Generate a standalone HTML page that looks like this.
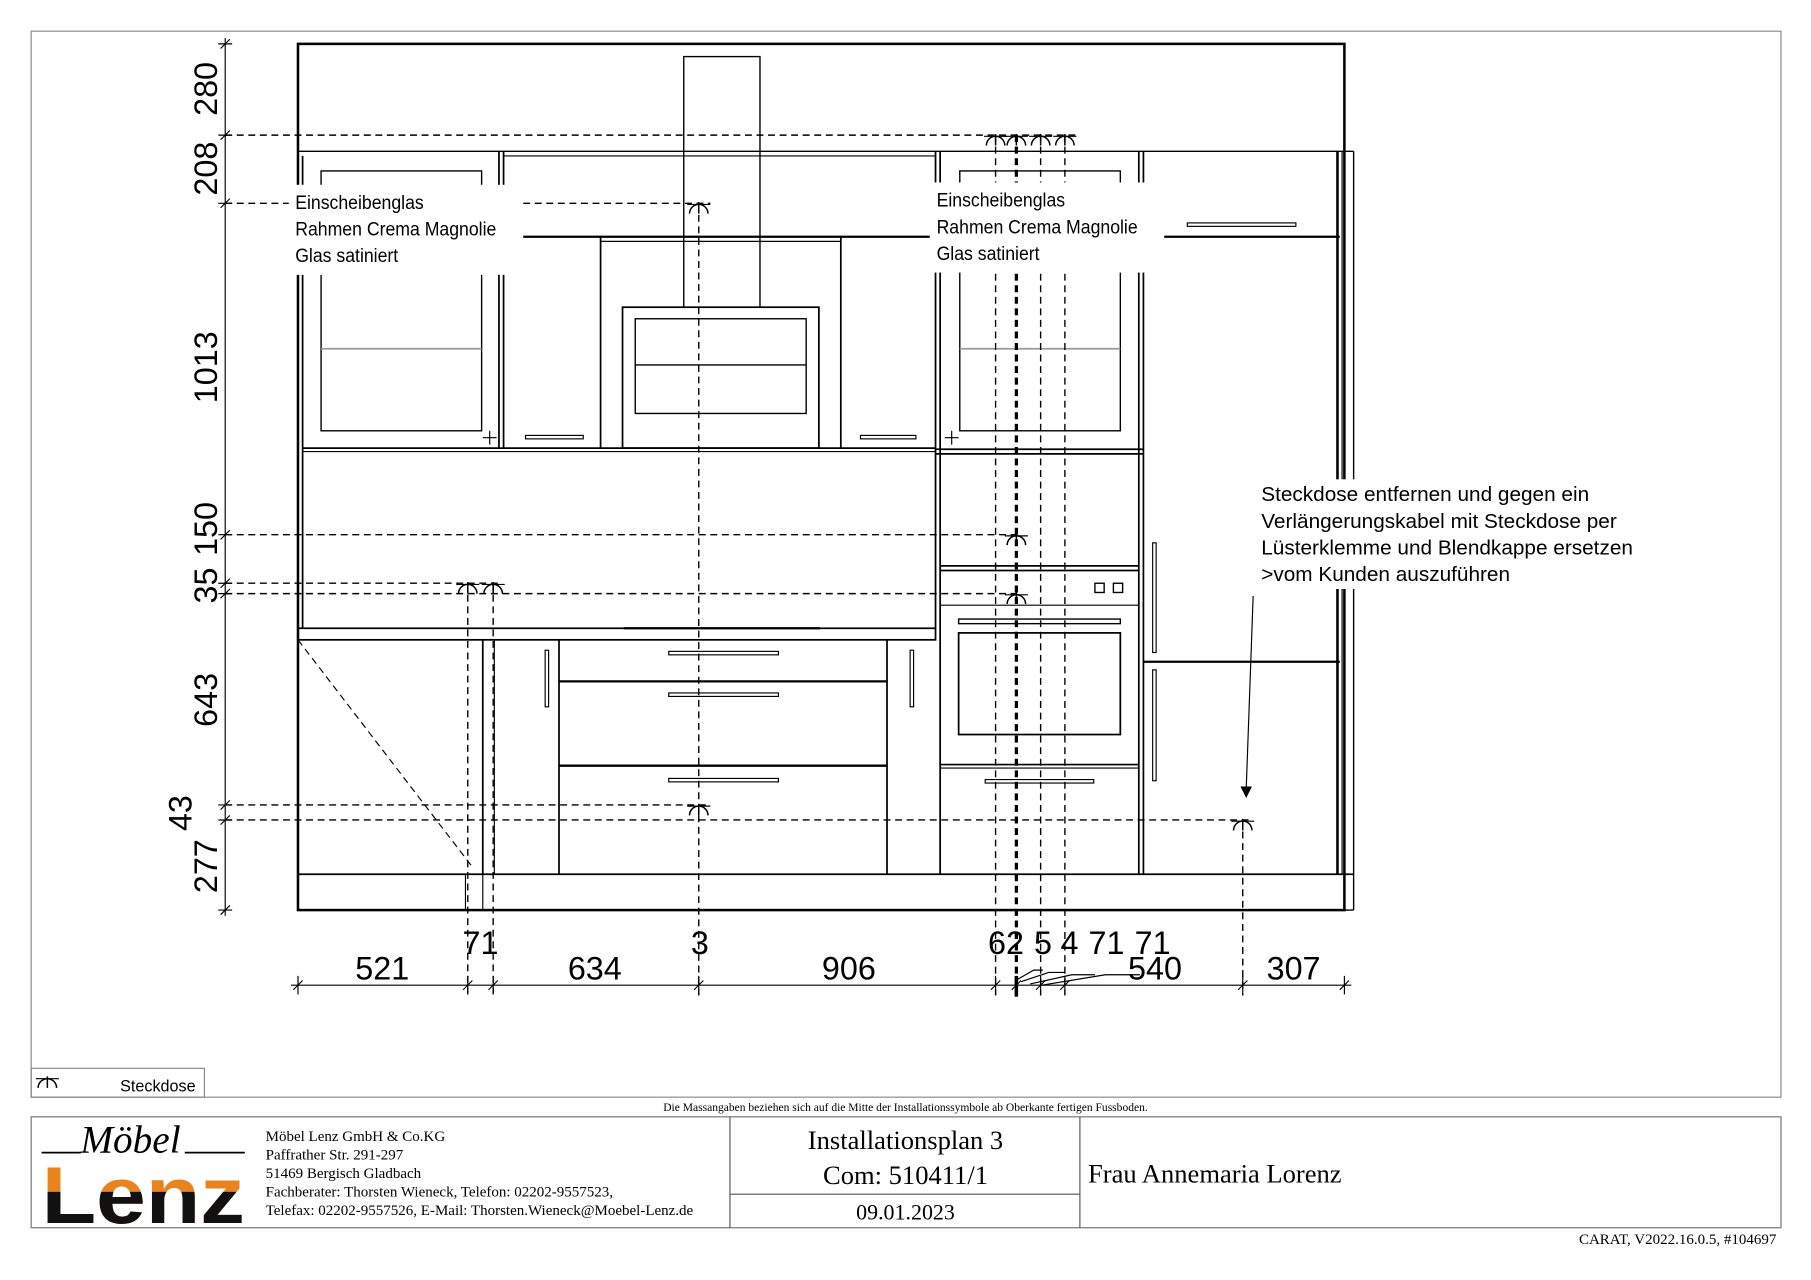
<!DOCTYPE html>
<html><head><meta charset="utf-8"><style>
html,body{margin:0;padding:0;background:#fff;width:1811px;height:1280px;overflow:hidden}
svg{display:block}
text{font-family:"Liberation Sans",sans-serif;fill:#000}
.s{font-family:"Liberation Serif",serif}
</style></head><body>
<svg width="1811" height="1280" viewBox="0 0 1568 1108.3" preserveAspectRatio="none" xmlns="http://www.w3.org/2000/svg">
<defs>
<clipPath id="lowc"><rect x="30" y="1032" width="190" height="40"/></clipPath>
<g id="sk"><path d="M-8,6 A8,8 0 0 1 8,6" fill="none" stroke="#000" stroke-width="1.3"/><line x1="0" y1="-4" x2="0" y2="6" stroke="#000" stroke-width="1.3"/><line x1="-10" y1="-2" x2="10" y2="-2" stroke="#000" stroke-width="1"/></g>
</defs>
<g fill="none" stroke="#000">
<rect x="27" y="27" width="1515" height="923" stroke="#888" stroke-width="1"/>
<rect x="27" y="925" width="150" height="25" stroke="#888" stroke-width="1"/>
<rect x="27" y="967" width="1515" height="96" stroke="#888" stroke-width="1.2"/>
<line x1="632" y1="967" x2="632" y2="1063" stroke="#555"/>
<line x1="935" y1="967" x2="935" y2="1063" stroke="#555"/>
<line x1="632" y1="1034" x2="935" y2="1034" stroke="#555"/>
<rect x="258" y="38" width="906" height="750" stroke-width="2.2"/>
<line x1="258" y1="131" x2="1172" y2="131" stroke-width="1.2"/>
<line x1="1172" y1="131" x2="1172" y2="788" stroke-width="1.2"/>
<line x1="1158" y1="131" x2="1158" y2="757" stroke-width="2.2"/>
<line x1="1162" y1="131" x2="1162" y2="757" stroke-width="1"/>
<line x1="258" y1="757" x2="1172" y2="757" stroke-width="1.5"/>
<line x1="1164" y1="788" x2="1172" y2="788" stroke-width="1.2"/>
<rect x="403" y="757" width="15" height="31" stroke-width="1"/>
<rect x="592" y="49" width="66" height="217" stroke-width="1.2"/>
<rect x="539" y="266" width="170" height="122" stroke-width="1.5"/>
<rect x="550" y="276" width="148" height="82" stroke-width="1.2"/>
<line x1="550" y1="316" x2="698" y2="316" stroke-width="1.2"/>
<line x1="453" y1="205" x2="805" y2="205" stroke-width="2"/>
<line x1="520" y1="209" x2="728" y2="209" stroke-width="1"/>
<line x1="520" y1="205" x2="520" y2="388" stroke-width="1.5"/>
<line x1="728" y1="205" x2="728" y2="388" stroke-width="1.5"/>
<line x1="262" y1="135" x2="262" y2="544" stroke-width="1.5"/>
<line x1="432" y1="131" x2="432" y2="388" stroke-width="1.5"/>
<line x1="436" y1="131" x2="436" y2="388" stroke-width="1.5"/>
<line x1="436" y1="135" x2="810" y2="135" stroke-width="1"/>
<line x1="810" y1="131" x2="810" y2="544" stroke-width="1.5"/>
<line x1="814" y1="131" x2="814" y2="757" stroke-width="1.5"/>
<line x1="986" y1="131" x2="986" y2="757" stroke-width="1.5"/>
<line x1="990" y1="131" x2="990" y2="757" stroke-width="1.5"/>
<line x1="262" y1="388" x2="810" y2="388" stroke-width="1.5"/>
<line x1="262" y1="391" x2="810" y2="391" stroke-width="1"/>
<rect x="278" y="148" width="139" height="225" stroke-width="1.2"/>
<line x1="278" y1="302" x2="417" y2="302" stroke="#999" stroke-width="1.5"/>
<rect x="831" y="148" width="139" height="225" stroke-width="1.2"/>
<line x1="831" y1="302" x2="970" y2="302" stroke="#999" stroke-width="1.5"/>
<line x1="810" y1="389" x2="990" y2="389" stroke-width="1.5"/>
<line x1="810" y1="393" x2="990" y2="393" stroke-width="1.5"/>
<rect x="455" y="377" width="50" height="3" stroke-width="1"/>
<rect x="745" y="377" width="48" height="3" stroke-width="1"/>
<path d="M424,373v12M418,379h12M824,373v12M818,379h12" stroke-width="1"/>
<line x1="1008" y1="205" x2="1160" y2="205" stroke-width="2"/>
<rect x="1028" y="193" width="94" height="3" stroke-width="1"/>
<line x1="990" y1="573" x2="1160" y2="573" stroke-width="2"/>
<rect x="998" y="470" width="3" height="95" stroke-width="1"/>
<rect x="998" y="580" width="3" height="96" stroke-width="1"/>
<line x1="814" y1="490" x2="986" y2="490" stroke-width="1.5"/>
<line x1="814" y1="494" x2="986" y2="494" stroke-width="1.5"/>
<rect x="948" y="505" width="8" height="8" stroke-width="1.2"/>
<rect x="964" y="505" width="8" height="8" stroke-width="1.2"/>
<line x1="814" y1="524" x2="986" y2="524" stroke-width="1"/>
<rect x="830" y="536" width="140" height="4" stroke-width="1.2"/>
<rect x="830" y="548" width="140" height="88" stroke-width="1.5"/>
<line x1="814" y1="662" x2="986" y2="662" stroke-width="1.5"/>
<line x1="814" y1="665" x2="986" y2="665" stroke-width="1"/>
<rect x="853" y="675" width="94" height="3" stroke-width="1"/>
<rect x="258" y="544" width="552" height="10" stroke-width="1.5"/>
<line x1="540" y1="544" x2="710" y2="544" stroke-width="2"/>
<line x1="418" y1="554" x2="418" y2="757" stroke-width="1.5"/>
<line x1="428" y1="554" x2="428" y2="757" stroke-width="1"/>
<line x1="484" y1="554" x2="484" y2="757" stroke-width="1.5"/>
<line x1="768" y1="554" x2="768" y2="757" stroke-width="1.5"/>
<line x1="484" y1="590" x2="768" y2="590" stroke-width="2"/>
<line x1="484" y1="663" x2="768" y2="663" stroke-width="2"/>
<rect x="579" y="564" width="95" height="3" stroke-width="1"/>
<rect x="579" y="600" width="95" height="3" stroke-width="1"/>
<rect x="579" y="674" width="95" height="3" stroke-width="1"/>
<rect x="472" y="563" width="3" height="49" stroke-width="1"/>
<rect x="788" y="563" width="3" height="49" stroke-width="1"/>
<line x1="258" y1="554" x2="410" y2="752" stroke-dasharray="6,4" stroke-width="1"/>
<g stroke-dasharray="6,4" stroke-width="1.2">
<line x1="195" y1="117" x2="935" y2="117"/>
<line x1="195" y1="176" x2="250" y2="176"/>
<line x1="453" y1="176" x2="615" y2="176"/>
<line x1="195" y1="463" x2="880" y2="463"/>
<line x1="195" y1="505" x2="435" y2="505"/>
<line x1="195" y1="514" x2="880" y2="514"/>
<line x1="195" y1="697" x2="615" y2="697"/>
<line x1="195" y1="710" x2="1085" y2="710"/>
<line x1="405" y1="505" x2="405" y2="862"/>
<line x1="427" y1="505" x2="427" y2="862"/>
<line x1="605" y1="176" x2="605" y2="862"/>
<line x1="862" y1="117" x2="862" y2="862"/>
<line x1="880" y1="117" x2="880" y2="862" stroke-width="2.8"/>
<line x1="901" y1="117" x2="901" y2="862"/>
<line x1="922" y1="117" x2="922" y2="862"/>
<line x1="1076" y1="710" x2="1076" y2="862"/>
</g>
<line x1="195" y1="33" x2="195" y2="793" stroke-width="1"/>
<path d="M189,38h12M189,117h12M189,176h12M189,463h12M189,505h12M189,514h12M189,697h12M189,710h12M189,788h12" stroke-width="1"/>
<path d="M191,42l8,-8M191,121l8,-8M191,180l8,-8M191,467l8,-8M191,509l8,-8M191,518l8,-8M191,701l8,-8M191,714l8,-8M191,792l8,-8" stroke-width="1"/>
<line x1="252" y1="853" x2="1170" y2="853" stroke-width="1"/>
<path d="M258,845v16M405,845v16M427,845v16M605,845v16M862,845v16M901,845v16M922,845v16M1076,845v16M1164,845v16" stroke-width="1"/>
<path d="M254,857l8,-8M401,857l8,-8M423,857l8,-8M601,857l8,-8M858,857l8,-8M876,857l8,-8M897,857l8,-8M918,857l8,-8M1072,857l8,-8M1160,857l8,-8" stroke-width="1"/>
<path d="M880,845v18" stroke-width="3"/>
<path d="M881,848l14,-8h8M884,850l24,-8h14M892,852l36,-8h20M902,853l55,-9h30" stroke-width="1"/>
<line x1="1085" y1="516" x2="1079" y2="683" stroke-width="1"/>
</g>
<path d="M1074,681h10l-5,10z" fill="#000"/>
<use href="#sk" x="605" y="179"/>
<use href="#sk" x="862" y="120"/><use href="#sk" x="880" y="120"/><use href="#sk" x="901" y="120"/><use href="#sk" x="922" y="120"/>
<use href="#sk" x="405" y="508"/><use href="#sk" x="427" y="508"/>
<use href="#sk" x="880" y="466"/><use href="#sk" x="880" y="517"/>
<use href="#sk" x="605" y="700"/><use href="#sk" x="1076" y="713"/>
<use href="#sk" x="41" y="936"/>
<rect x="252" y="160" width="200" height="78" fill="#fff"/>
<rect x="807" y="158" width="200" height="78" fill="#fff"/>
<rect x="1088" y="415" width="362" height="95" fill="#fff"/>
<g font-size="17" transform="scale(0.9,1)">
<text x="284" y="181">Einscheibenglas</text>
<text x="284" y="204">Rahmen Crema Magnolie</text>
<text x="284" y="227">Glas satiniert</text>
<text x="901" y="179">Einscheibenglas</text>
<text x="901" y="202">Rahmen Crema Magnolie</text>
<text x="901" y="225">Glas satiniert</text>
</g>
<g font-size="18">
<text x="1092" y="434">Steckdose entfernen und gegen ein</text>
<text x="1092" y="457">Verlängerungskabel mit Steckdose  per</text>
<text x="1092" y="480">Lüsterklemme und Blendkappe ersetzen</text>
<text x="1092" y="503">&gt;vom Kunden auszuführen</text>
</g>
<g font-size="28" text-anchor="middle">
<text transform="translate(188,77) rotate(-90)">280</text>
<text transform="translate(188,146) rotate(-90)">208</text>
<text transform="translate(188,318) rotate(-90)">1013</text>
<text transform="translate(188,458) rotate(-90)">150</text>
<text transform="translate(188,507) rotate(-90)">35</text>
<text transform="translate(188,606) rotate(-90)">643</text>
<text transform="translate(166,704) rotate(-90)">43</text>
<text transform="translate(188,750) rotate(-90)">277</text>
<text x="331" y="848">521</text>
<text x="515" y="848">634</text>
<text x="735" y="848">906</text>
<text x="1000" y="848">540</text>
<text x="1120" y="848">307</text>
<text x="416" y="826">71</text>
<text x="606" y="826">3</text>
<text x="871" y="826">62</text>
<text x="903" y="826">5</text>
<text x="926" y="826">4</text>
<text x="958" y="826">71</text>
<text x="998" y="826">71</text>
</g>
<text x="104" y="945" font-size="14">Steckdose</text>
<text x="784" y="962" font-size="10" text-anchor="middle" class="s">Die Massangaben beziehen sich auf die Mitte der Installationssymbole ab Oberkante fertigen Fussboden.</text>
<text x="113" y="998" font-size="34" font-style="italic" class="s" text-anchor="middle">Möbel</text>
<path d="M36,998h34M160,998h52" stroke="#000" stroke-width="1.5"/>
<text x="124" y="1059" font-size="70" font-weight="bold" text-anchor="middle" style="fill:#e8831e" textLength="176" lengthAdjust="spacingAndGlyphs">Lenz</text>
<text x="124" y="1059" font-size="70" font-weight="bold" text-anchor="middle" style="fill:#111" clip-path="url(#lowc)" textLength="176" lengthAdjust="spacingAndGlyphs">Lenz</text>
<g font-size="13">
<text x="230" y="988" class="s">Möbel Lenz GmbH &amp; Co.KG</text>
<text x="230" y="1004" class="s">Paffrather Str. 291-297</text>
<text x="230" y="1020" class="s">51469 Bergisch Gladbach</text>
<text x="230" y="1036" class="s">Fachberater: Thorsten Wieneck, Telefon: 02202-9557523,</text>
<text x="230" y="1052" class="s">Telefax: 02202-9557526, E-Mail: Thorsten.Wieneck@Moebel-Lenz.de</text>
</g>
<text x="784" y="995" font-size="23" text-anchor="middle" class="s">Installationsplan 3</text>
<text x="784" y="1025" font-size="23" text-anchor="middle" class="s">Com: 510411/1</text>
<text x="784" y="1056" font-size="19" text-anchor="middle" class="s">09.01.2023</text>
<text x="942" y="1024" font-size="23" class="s">Frau Annemaria Lorenz</text>
<text x="1538" y="1077" font-size="13" text-anchor="end" class="s">CARAT,  V2022.16.0.5,  #104697</text>
</svg>
</body></html>
